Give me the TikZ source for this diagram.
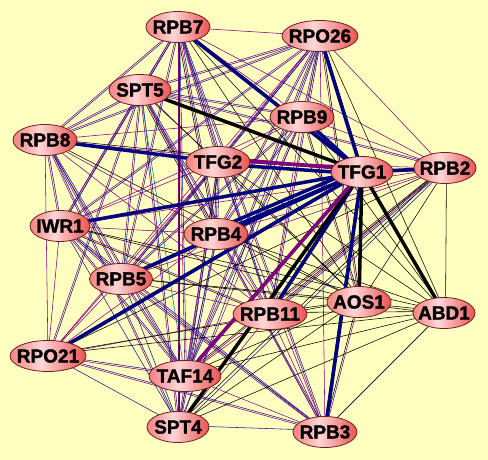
\documentclass[tikz,border=0pt]{standalone}
\usepackage{fontspec}
\setmainfont{Liberation Sans}
\newfontfamily\nodefont{Liberation Sans}[BoldFeatures={FakeBold=1.6}]
\usetikzlibrary{shapes.geometric,calc}
\pgfdeclarelayer{bg}
\pgfdeclarelayer{edges}
\pgfsetlayers{bg,edges,main}
\definecolor{bgyellow}{RGB}{255,255,192}
\definecolor{purp}{RGB}{128,0,128}
\definecolor{navyb}{RGB}{0,0,128}
\definecolor{thinb}{RGB}{20,20,150}
\definecolor{tealc}{RGB}{0,128,128}
\definecolor{nodel}{RGB}{244,128,128}
\definecolor{nodem}{RGB}{255,214,214}
\definecolor{noder}{RGB}{236,84,84}
\definecolor{nodeb}{RGB}{110,30,30}
\newcommand\lbl[1]{\makebox[0pt][c]{#1}}
\tikzset{
  gradfill/.style={path picture={
    \coordinate (gsw) at (path picture bounding box.south west);
    \coordinate (gse) at (path picture bounding box.south east);
    \coordinate (gnw) at (path picture bounding box.north west);
    \coordinate (gne) at (path picture bounding box.north east);
    \foreach \i in {0,...,27}{
      \pgfmathsetmacro\ta{\i/28}
      \pgfmathsetmacro\tb{(\i+1.1)/28}
      \pgfmathsetmacro\tm{(\i+0.5)/28}
      \ifdim\tm pt<0.42pt
        \pgfmathsetmacro\pp{100*(1-\tm/0.42)}\def\ec{nodel}
      \else
        \pgfmathsetmacro\pp{100*(\tm-0.42)/0.58}\def\ec{noder}
      \fi
      \fill[\ec!\pp!nodem] ($(gsw)!\ta!(gse)$) rectangle ($(gnw)!\tb!(gne)$);
    }
  }},
  gn/.style={ellipse, draw=nodeb, line width=0.8pt, inner sep=0pt,
    minimum width=#1, minimum height=31pt, gradfill,
    font=\nodefont\fontsize{19}{20}\selectfont\bfseries},
  pe/.style={draw=purp, line width=0.55pt},
  be/.style={draw=thinb, line width=0.55pt},
  ke/.style={draw=black, line width=0.55pt},
  te/.style={draw=tealc, line width=0.55pt},
  tb/.style={draw=navyb, line width=3.5pt},
  tk/.style={draw=black, line width=3.5pt},
  tp/.style={draw=purp, line width=3.5pt},
}
\begin{document}
\begin{tikzpicture}[x=1pt,y=-1pt]
\useasboundingbox (0,0) rectangle (488,460);
\begin{pgfonlayer}{bg}
\fill[bgyellow] (0,0) rectangle (488,460);
\end{pgfonlayer}
% nodes
\node[gn=64] (RPB7)  at (178,27)  {\lbl{RPB7}};
\node[gn=76] (RPO26) at (320,36)  {\lbl{RPO26}};
\node[gn=62] (SPT5)  at (140,90)  {\lbl{SPT5}};
\node[gn=64] (RPB9)  at (302,117) {\lbl{RPB9}};
\node[gn=64] (RPB8)  at (45,140)  {\lbl{RPB8}};
\node[gn=64] (TFG2)  at (218,162) {\lbl{TFG2}};
\node[gn=62] (TFG1)  at (362,172) {\lbl{TFG1}};
\node[gn=62] (RPB2)  at (445,168) {\lbl{RPB2}};
\node[gn=60] (IWR1)  at (60,226)  {\lbl{IWR1}};
\node[gn=64] (RPB4)  at (216,234) {\lbl{RPB4}};
\node[gn=63] (RPB5)  at (121,279) {\lbl{RPB5}};
\node[gn=64] (AOS1)  at (359,302) {\lbl{AOS1}};
\node[gn=62] (ABD1)  at (444,313) {\lbl{ABD1}};
\node[gn=74] (RPB11) at (270,314) {\lbl{RPB11}};
\node[gn=76] (RPO21) at (48,356)  {\lbl{RPO21}};
\node[gn=72] (TAF14) at (185,376) {\lbl{TAF14}};
\node[gn=62] (SPT4)  at (178,427) {\lbl{SPT4}};
\node[gn=64] (RPB3)  at (325,432) {\lbl{RPB3}};
\begin{pgfonlayer}{edges}
% thin purple
\foreach \a/\bl in {
 RPB7/{RPO26,SPT5,RPB9,RPB8,TFG2,RPB2,IWR1,RPB4,RPB5,RPB11,TAF14,SPT4,RPB3},
 RPO26/{SPT5,RPB9,RPB8,TFG2,RPB2,IWR1,RPB4,RPB5,RPB11,RPO21,TAF14,RPB3},
 SPT5/{RPB9,RPB8,TFG2,RPB2,IWR1,RPB4,RPB5,RPB11,RPO21,SPT4,RPB3},
 RPB9/{RPB8,TFG2,RPB2,IWR1,RPB4,RPB5,RPB11,TAF14,SPT4},
 RPB8/{TFG2,IWR1,RPB4,RPB5,RPB11,RPO21,TAF14,SPT4},
 TFG2/{RPB2,IWR1,RPB4,RPB5,RPO21,TAF14,SPT4,RPB3},
 RPB2/{IWR1,RPB4,RPB5,RPB11,TAF14},
 IWR1/{RPB4,RPB5,RPB11,RPO21,TAF14,RPB3},
 RPB4/{RPB5,RPB11,RPO21,SPT4,RPB3},
 RPB5/{RPB11,RPO21,TAF14,RPB3},
 RPB11/{RPO21,TAF14,SPT4,RPB3},
 RPO21/{TAF14,RPB3},
 TAF14/{RPB3},
 TFG1/{RPB7,RPO26,RPB8,IWR1,RPB5,RPO21,RPB3},
 AOS1/{RPO26,RPB3,RPB9}}
 {\foreach \b in \bl {\draw[pe] (\a.center) -- (\b.center);}}
% thin blue (parallel offset)
\foreach \a/\bl in {
 RPB7/{SPT5,RPB8,TFG2,RPB4,RPB5,TAF14,SPT4,RPB3,RPB11,IWR1},
 RPO26/{SPT5,RPB9,TFG2,RPB4,RPB5,RPB8,IWR1,TAF14,SPT4,RPB11},
 SPT5/{RPB8,RPB9,IWR1,RPB4,RPB5,RPO21,SPT4,RPB11,RPB2},
 RPB8/{IWR1,RPB5,TAF14,SPT4},
 IWR1/{RPB5,TAF14,SPT4,RPB3},
 RPB5/{TAF14,SPT4,RPB3},
 RPO21/{TAF14,SPT4,RPB3},
 TFG2/{RPB4,RPB5,SPT4,TAF14,RPB11},
 RPB4/{TAF14,SPT4,RPB3},
 RPB9/{RPB5,RPB4,TAF14},
 SPT4/{RPB3},
 RPB2/{RPB11,SPT4}}
 {\foreach \b in \bl {\draw[be] ($(\a.center)!1.5pt!90:(\b.center)$) -- ($(\b.center)!1.5pt!-90:(\a.center)$);}}
% thin black
\foreach \a/\bl in {
 AOS1/{RPB7,RPO26,SPT5,RPB9,RPB8,TFG2,RPB2,IWR1,RPB4,RPB5,RPB11,RPO21,TAF14,SPT4,RPB3,ABD1},
 ABD1/{RPB7,RPO26,RPB9,TFG2,RPB2,IWR1,RPB4,RPB5,RPB11,RPO21,TAF14,SPT4,RPB3},
 TFG1/{RPB7,RPO26,TFG2,RPB8,RPB5,TAF14,RPO21,RPB3,RPB11,RPB2},
 RPB7/{RPB4},
 SPT5/{RPB4},
 RPB2/{RPB11,TAF14,SPT4,RPO21},
 TFG2/{RPB4},
 IWR1/{RPB11}}
 {\foreach \b in \bl {\draw[ke] ($(\a.center)!-1.5pt!90:(\b.center)$) -- ($(\b.center)!-1.5pt!-90:(\a.center)$);}}
\draw[te] (SPT5.center) -- (TAF14.center);
% thick edges
\draw[tp] ([yshift=3pt]TFG2.center) -- ([yshift=3pt]TFG1.center);
\draw[tb] ([yshift=-2pt]TFG2.center) -- ([yshift=-2pt]TFG1.center);
\foreach \a in {RPB7,RPO26,RPB9,IWR1,RPB4,RPB5,RPO21,RPB11,RPB2,RPB3}
 {\draw[tb] (\a.center) -- (TFG1.center);}
\draw[tb] ([yshift=5pt]RPB4.center) -- ([yshift=5pt]TFG1.center);
\draw[tb] (RPB8.center) -- (TFG2.center);
\foreach \a in {SPT5,SPT4,AOS1,ABD1}
 {\draw[tk] (\a.center) -- (TFG1.center);}
\draw[tp] (TAF14.center) -- (TFG1.center);
\end{pgfonlayer}
\end{tikzpicture}
\end{document}
